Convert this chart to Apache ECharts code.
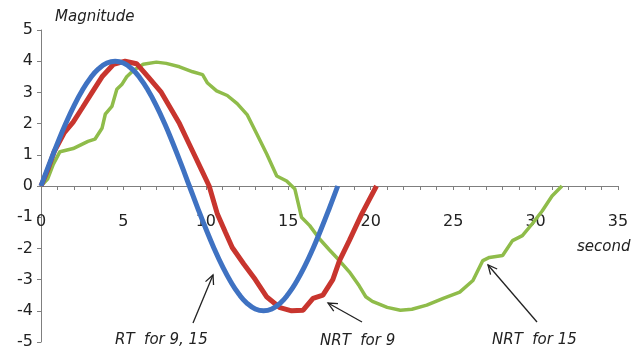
<!DOCTYPE html>
<html>
<head>
    <meta charset="UTF-8">
    <title>Magnitude</title>
    <style>
        *{
            margin: 0;
            padding: 0;
        }
        body{
            background: #fff;
        }
        .container{
            width: 635px;
            height: 354px;
        }
    </style>
    <script src="https://cdn.jsdelivr.net/npm/echarts@6/dist/echarts.min.js"></script>
</head>
<body>
<div class="container"></div>
<script>
    // values: [second, magnitude]
    let rtData=[[0,0],[0.5,0.7],[1,1.37],[1.5,2],[2,2.57],[2.5,3.06],[3,3.46],[3.5,3.76],[4,3.94],[4.5,4],
        [5,3.94],[5.5,3.76],[6,3.46],[6.5,3.06],[7,2.57],[7.5,2],[8,1.37],[8.5,0.7],[9,0],[9.5,-0.7],
        [10,-1.37],[10.5,-2],[11,-2.57],[11.5,-3.06],[12,-3.46],[12.5,-3.76],[13,-3.94],[13.5,-4],[14,-3.94],
        [14.5,-3.76],[15,-3.46],[15.5,-3.06],[16,-2.57],[16.5,-2],[17,-1.37],[17.5,-0.7],[18,0]]
    let nrt9Data=[[0,0],[0.4,0.5],[0.8,1.1],[1.4,1.7],[1.95,2.05],[2.5,2.5],[3.1,3],[3.7,3.5],[4.4,3.9],[5.1,4],
        [5.8,3.92],[6.5,3.5],[7.3,3],[7.85,2.5],[8.4,2],[8.85,1.5],[9.3,1],[9.75,0.5],[10.2,0],[10.7,-0.9],
        [11.2,-1.5],[11.6,-1.97],[12.3,-2.5],[13,-3],[13.7,-3.56],[14.5,-3.9],[15.2,-4],[15.9,-3.98],[16.5,-3.6],
        [17.1,-3.5],[17.7,-3],[18.1,-2.4],[18.7,-1.75],[19.45,-0.9],[20.35,0]]
    let nrt15Data=[[0,0],[0.4,0.22],[0.75,0.7],[1.15,1.1],[1.95,1.2],[2.85,1.43],[3.27,1.5],[3.7,1.85],[3.9,2.3],
        [4.3,2.55],[4.6,3.1],[4.9,3.25],[5.2,3.5],[5.6,3.7],[6.2,3.9],[7,3.97],[7.6,3.93],[8.4,3.82],[9.2,3.66],
        [9.8,3.57],[10.1,3.3],[10.65,3.05],[11.3,2.9],[11.9,2.64],[12.5,2.29],[13.1,1.66],[13.7,1.02],[14.3,0.32],
        [14.9,0.16],[15.4,-0.1],[15.8,-1],[16.3,-1.27],[16.9,-1.7],[17.5,-2.05],[18.1,-2.39],[18.7,-2.75],
        [19.3,-3.2],[19.7,-3.55],[20.1,-3.7],[21,-3.89],[21.8,-3.98],[22.5,-3.95],[23.4,-3.82],[24.4,-3.6],
        [25.4,-3.4],[26.2,-3.03],[26.8,-2.39],[27.2,-2.29],[28,-2.23],[28.6,-1.75],[29.2,-1.59],[29.8,-1.21],
        [30.4,-0.8],[31,-0.32],[31.6,0]]

    let font='DejaVu Sans'
    let container=document.querySelector('.container')
    let mychart=echarts.init(container)

    // annotation arrows: [tailX, tailY, headX, headY]
    let arrows=[[193,323,213,275],[362,322,328,303],[537,322,488,265]]
    let graphic=[]
    arrows.forEach(a=>{
        let ang=Math.atan2(a[3]-a[1],a[2]-a[0])
        let l=10,w=0.45
        graphic.push({type:'line',shape:{x1:a[0],y1:a[1],x2:a[2],y2:a[3]},style:{stroke:'#222',lineWidth:1.3}})
        graphic.push({type:'polyline',shape:{points:[
            [a[2]-l*Math.cos(ang-w),a[3]-l*Math.sin(ang-w)],[a[2],a[3]],
            [a[2]-l*Math.cos(ang+w),a[3]-l*Math.sin(ang+w)]]},style:{stroke:'#222',lineWidth:1.3,fill:null}})
    })
    let txt=(x,y,s)=>({type:'text',x:x,y:y,style:{text:s,font:'italic 15px '+font,fill:'#222',
        textVerticalAlign:'middle'}})
    graphic.push(txt(55,17,'Magnitude'))
    graphic.push(txt(577,247,'second'))
    graphic.push(txt(115,340,'RT  for 9, 15'))
    graphic.push(txt(320,341,'NRT  for 9'))
    graphic.push(txt(492,340,'NRT  for 15'))

    let option={
        animation:false,
        backgroundColor:'#fff',
        grid:{left:41,right:17,top:30,bottom:12,containLabel:false,outerBoundsMode:'none'},
        xAxis:{
            type:'value',
            min:0,
            max:35,
            interval:5,
            axisLine:{onZero:true,lineStyle:{color:'#7f7f7f'}},
            axisTick:{show:true,length:4,lineStyle:{color:'#7f7f7f'}},
            minorTick:{show:true,splitNumber:5,length:4,lineStyle:{color:'#7f7f7f'}},
            // labels stay at the grid bottom, so pull them up under the zero line
            axisLabel:{margin:-128,color:'#222',fontSize:16,fontFamily:font},
            splitLine:{show:false}
        },
        yAxis:{
            type:'value',
            min:-5,
            max:5,
            interval:1,
            axisLine:{show:true,lineStyle:{color:'#7f7f7f'}},
            axisTick:{show:true,length:4,lineStyle:{color:'#7f7f7f'}},
            axisLabel:{margin:8,color:'#222',fontSize:16,fontFamily:font},
            splitLine:{show:false}
        },
        series:[
            {name:'NRT for 15',type:'line',data:nrt15Data,showSymbol:false,z:2,
                lineStyle:{color:'#8fbc4a',width:3.5}},
            {name:'NRT for 9',type:'line',data:nrt9Data,showSymbol:false,z:3,
                lineStyle:{color:'#c8352e',width:5}},
            {name:'RT for 9, 15',type:'line',data:rtData,showSymbol:false,smooth:true,z:4,
                lineStyle:{color:'#3f72c2',width:5}}
        ],
        graphic
    }
    mychart.setOption(option)
</script>
</body>
</html>
